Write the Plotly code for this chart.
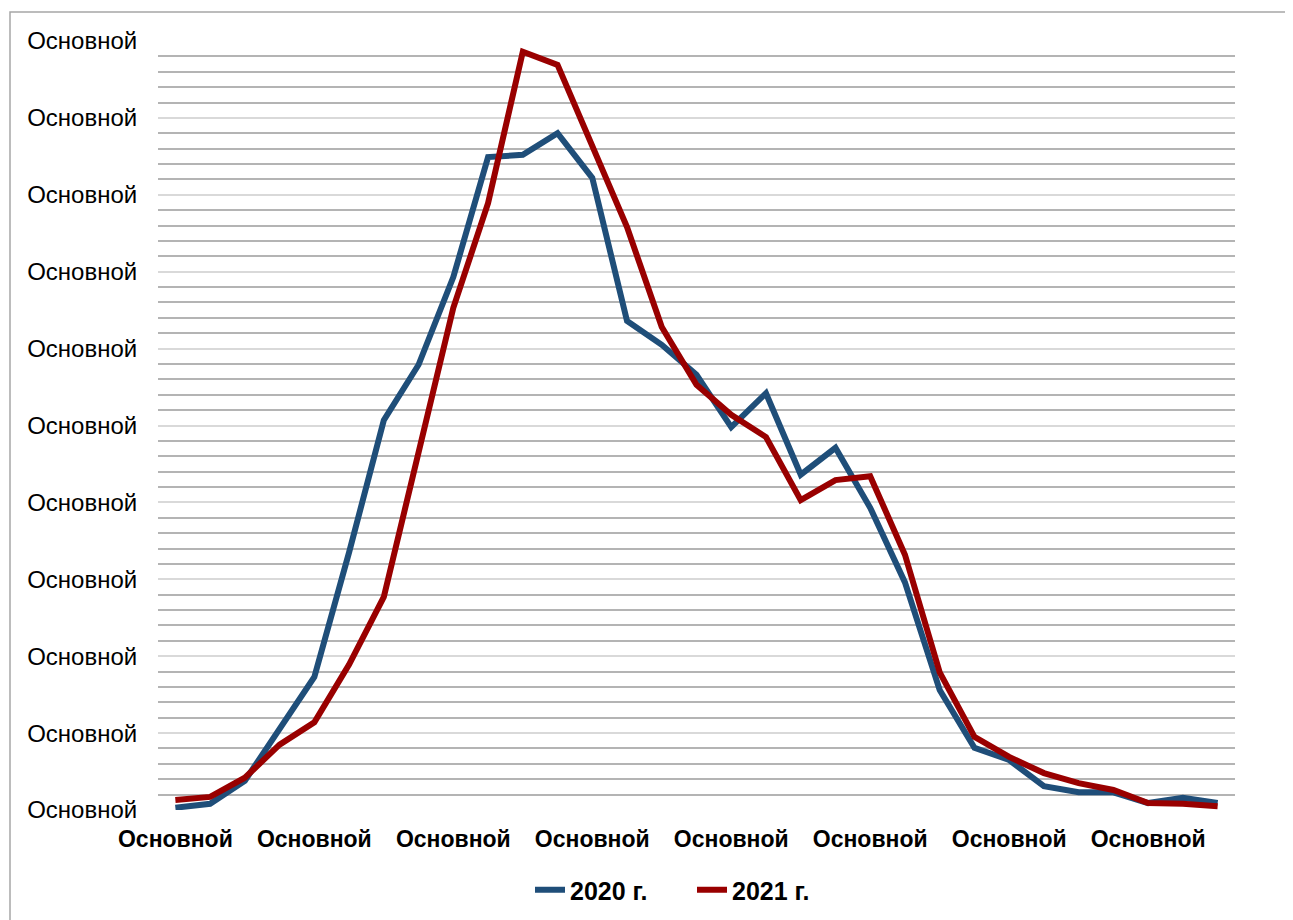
import plotly.graph_objects as go

x_idx = list(range(31))
x_tickvals = [0, 4, 8, 12, 16, 20, 24, 28]
x_ticktext = ["Основной"] * 8
y_tickvals = [0, 10, 20, 30, 40, 50, 60, 70, 80, 90, 100]
y_ticktext = ["Основной"] * 11

s2020 = [0.3, 0.8, 3.8, 10.5, 17.3, 33.5, 50.7, 57.9, 69.3, 84.9, 85.2, 88.0, 82.2, 63.6, 60.5,
         56.6, 49.8, 54.2, 43.6, 47.1, 39.3, 29.6, 15.6, 8.1, 6.5, 3.1, 2.3, 2.3, 0.9, 1.6, 0.9]
s2021 = [1.3, 1.7, 4.2, 8.5, 11.4, 18.9, 27.7, 46.8, 65.3, 78.9, 98.6, 96.9, 86.2, 75.8, 62.8,
         55.3, 51.4, 48.5, 40.3, 42.9, 43.4, 33.2, 17.9, 9.5, 6.9, 4.8, 3.5, 2.6, 0.9, 0.8, 0.5]

W, H = 1293, 920
OFF = 8  # default page body margin
# reference (page) pixel positions of the plot area
PX0, PX1, PY0, PY1 = 158, 1235, 41, 810
L, T = PX0 - OFF, PY0 - OFF
R = W - (PX1 - OFF)
B = H - (PY1 - OFF)
pw, ph = PX1 - PX0, PY1 - PY0


def px(x):
    return (x - PX0) / pw


def py(y):
    return (PY1 - y) / ph


fig = go.Figure()
fig.add_trace(go.Scatter(x=x_idx, y=s2020, mode="lines", name="2020 г.",
                         line=dict(color="#1F4E79", width=6)))
fig.add_trace(go.Scatter(x=x_idx, y=s2021, mode="lines", name="2021 г.",
                         line=dict(color="#990000", width=6)))

fig.update_layout(
    width=W, height=H,
    margin=dict(l=L, r=R, t=T, b=B),
    paper_bgcolor="white", plot_bgcolor="white",
    font=dict(family="Liberation Sans, Arial, sans-serif", color="black"),
    showlegend=True,
    legend=dict(orientation="h", x=px(530), xanchor="left",
                y=py(890), yanchor="middle",
                font=dict(size=25, family="Liberation Sans, Arial, sans-serif", weight="bold"),
                entrywidth=117, entrywidthmode="pixels", tracegroupgap=0),
    xaxis=dict(range=[-0.5, 30.5], tickvals=x_tickvals, ticktext=x_ticktext,
               tickfont=dict(size=23, weight="bold"), showgrid=False, zeroline=False,
               showline=False, ticks="outside", ticklen=8, tickcolor="rgba(0,0,0,0)"),
    yaxis=dict(range=[0, 100], tickvals=y_tickvals, ticktext=y_ticktext,
               tickfont=dict(size=24), showgrid=True, gridcolor="#d9d9d9", gridwidth=2,
               zeroline=False, showline=False, ticks="outside", ticklen=15,
               tickcolor="rgba(0,0,0,0)",
               minor=dict(dtick=2, showgrid=True, gridcolor="#b4b4b4", gridwidth=2)),
    shapes=[dict(type="rect", xref="paper", yref="paper",
                 x0=px(10), x1=px(1330),
                 y0=py(960), y1=py(12),
                 line=dict(color="#a6a6a6", width=1.5), fillcolor="rgba(0,0,0,0)",
                 layer="below")],
)

fig.write_html("out.html", config={"displayModeBar": False})
